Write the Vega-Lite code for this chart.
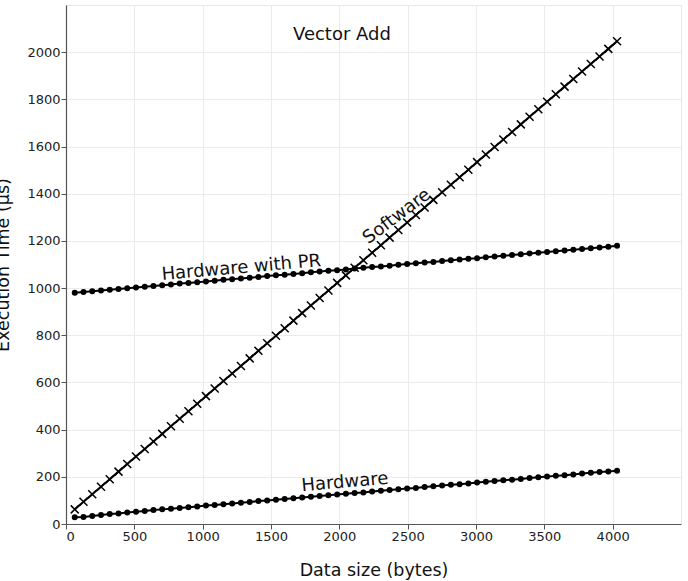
{
  "$schema": "https://vega.github.io/schema/vega-lite/v6.json",
  "width": 615,
  "height": 519,
  "autosize": {"type": "none"},
  "padding": {"left": 66, "top": 5, "right": 7, "bottom": 57},
  "background": "white",
  "config": {
    "font": "DejaVu Sans",
    "view": {"stroke": "#e6e6e6", "strokeWidth": 1},
    "axis": {
      "gridColor": "#ebebeb",
      "gridWidth": 1,
      "domainColor": "#555555",
      "domainWidth": 1.2,
      "tickColor": "#555555",
      "tickSize": 5,
      "labelFont": "DejaVu Sans",
      "labelFontSize": 13,
      "labelColor": "#222222",
      "titleFont": "DejaVu Sans",
      "titleFontSize": 17.5,
      "titleFontWeight": "normal",
      "titleColor": "#111111"
    }
  },
  "datasets": {
    "times": [
      {"x": 64, "Software": 62, "Hardware": 29, "Hardware with PR": 980},
      {"x": 128, "Software": 94, "Hardware": 30, "Hardware with PR": 983},
      {"x": 192, "Software": 126, "Hardware": 34, "Hardware with PR": 987},
      {"x": 256, "Software": 158, "Hardware": 38, "Hardware with PR": 990},
      {"x": 320, "Software": 190, "Hardware": 42, "Hardware with PR": 993},
      {"x": 384, "Software": 222, "Hardware": 45, "Hardware with PR": 996},
      {"x": 448, "Software": 254, "Hardware": 49, "Hardware with PR": 999},
      {"x": 512, "Software": 286, "Hardware": 52, "Hardware with PR": 1003},
      {"x": 576, "Software": 318, "Hardware": 55, "Hardware with PR": 1006},
      {"x": 640, "Software": 350, "Hardware": 59, "Hardware with PR": 1009},
      {"x": 704, "Software": 382, "Hardware": 62, "Hardware with PR": 1012},
      {"x": 768, "Software": 414, "Hardware": 65, "Hardware with PR": 1015},
      {"x": 832, "Software": 446, "Hardware": 68, "Hardware with PR": 1019},
      {"x": 896, "Software": 478, "Hardware": 71, "Hardware with PR": 1022},
      {"x": 960, "Software": 510, "Hardware": 74, "Hardware with PR": 1025},
      {"x": 1024, "Software": 542, "Hardware": 78, "Hardware with PR": 1028},
      {"x": 1088, "Software": 574, "Hardware": 81, "Hardware with PR": 1031},
      {"x": 1152, "Software": 606, "Hardware": 84, "Hardware with PR": 1035},
      {"x": 1216, "Software": 638, "Hardware": 87, "Hardware with PR": 1038},
      {"x": 1280, "Software": 670, "Hardware": 90, "Hardware with PR": 1041},
      {"x": 1344, "Software": 702, "Hardware": 93, "Hardware with PR": 1044},
      {"x": 1408, "Software": 734, "Hardware": 97, "Hardware with PR": 1047},
      {"x": 1472, "Software": 766, "Hardware": 100, "Hardware with PR": 1051},
      {"x": 1536, "Software": 798, "Hardware": 103, "Hardware with PR": 1054},
      {"x": 1600, "Software": 830, "Hardware": 106, "Hardware with PR": 1057},
      {"x": 1664, "Software": 862, "Hardware": 109, "Hardware with PR": 1060},
      {"x": 1728, "Software": 894, "Hardware": 112, "Hardware with PR": 1063},
      {"x": 1792, "Software": 926, "Hardware": 116, "Hardware with PR": 1067},
      {"x": 1856, "Software": 958, "Hardware": 119, "Hardware with PR": 1070},
      {"x": 1920, "Software": 990, "Hardware": 122, "Hardware with PR": 1073},
      {"x": 1984, "Software": 1022, "Hardware": 125, "Hardware with PR": 1076},
      {"x": 2048, "Software": 1054, "Hardware": 128, "Hardware with PR": 1079},
      {"x": 2112, "Software": 1086, "Hardware": 131, "Hardware with PR": 1083},
      {"x": 2176, "Software": 1118, "Hardware": 134, "Hardware with PR": 1086},
      {"x": 2240, "Software": 1150, "Hardware": 138, "Hardware with PR": 1089},
      {"x": 2304, "Software": 1182, "Hardware": 141, "Hardware with PR": 1092},
      {"x": 2368, "Software": 1214, "Hardware": 144, "Hardware with PR": 1095},
      {"x": 2432, "Software": 1246, "Hardware": 147, "Hardware with PR": 1099},
      {"x": 2496, "Software": 1278, "Hardware": 150, "Hardware with PR": 1102},
      {"x": 2560, "Software": 1310, "Hardware": 153, "Hardware with PR": 1105},
      {"x": 2624, "Software": 1342, "Hardware": 157, "Hardware with PR": 1108},
      {"x": 2688, "Software": 1374, "Hardware": 160, "Hardware with PR": 1111},
      {"x": 2752, "Software": 1406, "Hardware": 163, "Hardware with PR": 1115},
      {"x": 2816, "Software": 1438, "Hardware": 166, "Hardware with PR": 1118},
      {"x": 2880, "Software": 1470, "Hardware": 169, "Hardware with PR": 1121},
      {"x": 2944, "Software": 1502, "Hardware": 172, "Hardware with PR": 1124},
      {"x": 3008, "Software": 1534, "Hardware": 176, "Hardware with PR": 1127},
      {"x": 3072, "Software": 1566, "Hardware": 179, "Hardware with PR": 1131},
      {"x": 3136, "Software": 1598, "Hardware": 182, "Hardware with PR": 1134},
      {"x": 3200, "Software": 1630, "Hardware": 185, "Hardware with PR": 1137},
      {"x": 3264, "Software": 1662, "Hardware": 188, "Hardware with PR": 1140},
      {"x": 3328, "Software": 1694, "Hardware": 191, "Hardware with PR": 1143},
      {"x": 3392, "Software": 1726, "Hardware": 195, "Hardware with PR": 1147},
      {"x": 3456, "Software": 1758, "Hardware": 198, "Hardware with PR": 1150},
      {"x": 3520, "Software": 1790, "Hardware": 201, "Hardware with PR": 1153},
      {"x": 3584, "Software": 1822, "Hardware": 204, "Hardware with PR": 1156},
      {"x": 3648, "Software": 1854, "Hardware": 207, "Hardware with PR": 1159},
      {"x": 3712, "Software": 1886, "Hardware": 210, "Hardware with PR": 1163},
      {"x": 3776, "Software": 1918, "Hardware": 214, "Hardware with PR": 1166},
      {"x": 3840, "Software": 1950, "Hardware": 217, "Hardware with PR": 1169},
      {"x": 3904, "Software": 1982, "Hardware": 220, "Hardware with PR": 1172},
      {"x": 3968, "Software": 2014, "Hardware": 223, "Hardware with PR": 1175},
      {"x": 4032, "Software": 2046, "Hardware": 226, "Hardware with PR": 1179}
    ]
  },
  "layer": [
    {
      "data": {"name": "times"},
      "transform": [{"fold": ["Software", "Hardware", "Hardware with PR"], "as": ["series", "time"]}],
      "mark": {"type": "line", "color": "black", "strokeWidth": 2},
      "encoding": {
        "x": {"field": "x", "type": "quantitative", "scale": {"domain": [0, 4500], "nice": false}, "axis": {"values": [0, 500, 1000, 1500, 2000, 2500, 3000, 3500, 4000], "format": "d", "title": "Data size (bytes)", "labelPadding": 1, "titlePadding": 18}},
        "y": {"field": "time", "type": "quantitative", "scale": {"domain": [0, 2200], "nice": false}, "axis": {"values": [0, 200, 400, 600, 800, 1000, 1200, 1400, 1600, 1800, 2000], "format": "d", "title": "Execution Time (µs)", "labelPadding": 1, "titlePadding": 14}},
        "detail": {"field": "series"}
      }
    },
    {
      "data": {"name": "times"},
      "transform": [{"fold": ["Hardware", "Hardware with PR"], "as": ["series", "time"]}],
      "mark": {"type": "point", "shape": "circle", "filled": true, "color": "black", "size": 36, "opacity": 1},
      "encoding": {
        "x": {"field": "x", "type": "quantitative"},
        "y": {"field": "time", "type": "quantitative"}
      }
    },
    {
      "data": {"name": "times"},
      "mark": {"type": "point", "shape": "M-1,-1L1,1M-1,1L1,-1", "filled": false, "color": "black", "strokeWidth": 1.5, "size": 64, "opacity": 1},
      "encoding": {
        "x": {"field": "x", "type": "quantitative"},
        "y": {"field": "Software", "type": "quantitative"}
      }
    },
    {
      "data": {"values": [{"x": 2041, "y": 176, "label": "Hardware"}, {"x": 1283, "y": 1085, "label": "Hardware with PR"}]},
      "mark": {"type": "text", "fontSize": 18, "angle": -5, "align": "center", "baseline": "middle", "color": "#111111"},
      "encoding": {
        "x": {"field": "x", "type": "quantitative"},
        "y": {"field": "y", "type": "quantitative"},
        "text": {"field": "label"}
      }
    },
    {
      "data": {"values": [{"x": 2422, "y": 1303, "label": "Software"}]},
      "mark": {"type": "text", "fontSize": 18, "angle": -37, "align": "center", "baseline": "middle", "color": "#111111"},
      "encoding": {
        "x": {"field": "x", "type": "quantitative"},
        "y": {"field": "y", "type": "quantitative"},
        "text": {"field": "label"}
      }
    },
    {
      "data": {"values": [{"x": 2019, "y": 2073, "label": "Vector Add"}]},
      "mark": {"type": "text", "fontSize": 18, "align": "center", "baseline": "middle", "color": "#111111"},
      "encoding": {
        "x": {"field": "x", "type": "quantitative"},
        "y": {"field": "y", "type": "quantitative"},
        "text": {"field": "label"}
      }
    }
  ]
}
